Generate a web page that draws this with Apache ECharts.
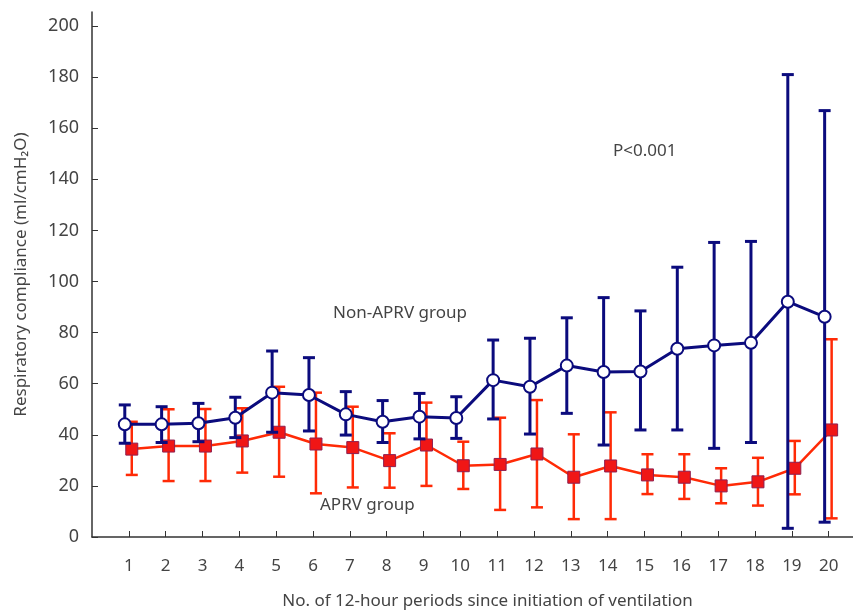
<!DOCTYPE html>
<html><head><meta charset="utf-8">
<script src="https://cdn.jsdelivr.net/npm/echarts@6/dist/echarts.min.js"></script>
<style>html,body{margin:0;padding:0;background:#fff}#c{width:853px;height:612px}</style>
</head><body><div id="c"></div>
<script>
// ---- data ----
const periods = [1,2,3,4,5,6,7,8,9,10,11,12,13,14,15,16,17,18,19,20];
const nonAprvMean = [44.1,44.1,44.5,46.7,56.5,55.6,48.0,45.1,47.1,46.6,61.4,58.8,67.1,64.6,64.8,73.7,75.0,76.0,92.1,86.2];
const nonAprvHigh = [51.7,51.0,52.3,54.7,72.8,70.2,56.9,53.4,56.2,54.9,77.1,77.8,85.8,93.7,88.5,105.6,115.3,115.7,181.0,166.9];
const nonAprvLow  = [36.7,37.0,37.3,38.9,41.0,41.5,39.9,37.0,38.4,38.6,46.2,40.3,48.4,36.0,41.9,41.9,34.7,37.0,3.4,5.8];
const aprvMean = [34.4,35.6,35.6,37.6,41.0,36.4,35.0,29.9,36.0,27.9,28.4,32.5,23.4,27.8,24.3,23.4,20.0,21.6,26.9,41.9];
const aprvHigh = [45.1,50.0,50.1,50.4,58.8,56.5,51.0,40.6,52.6,37.3,46.7,53.6,40.2,48.8,32.4,32.4,26.9,31.0,37.6,77.4];
const aprvLow  = [24.3,21.9,21.9,25.2,23.6,17.1,19.4,19.3,20.0,18.8,10.6,11.6,7.0,7.0,16.8,14.9,13.2,12.3,16.7,7.3];
const yTicks = [0,20,40,60,80,100,120,140,160,180,200];
const xTicks = periods;
const labels = { nonAprv: 'Non-APRV group', aprv: 'APRV group', p: 'P<0.001' };

// ---- style ----
const NAVY = '#0b0b7d';
const RED = '#ff2a06';
const BLUE_DX = -0.11;   // small horizontal stagger of the two groups
const RED_DX = 0.08;
const FONT = "'Noto Sans', sans-serif";
const TXT = '#444444';

function errSeries(name, low, high, color, dx, width, capHalf, z) {
  return {
    type: 'custom', name: name, z: z, silent: true,
    data: periods.map((p, i) => [p + dx, low[i], high[i]]),
    encode: { x: 0, y: [1, 2] },
    renderItem: function (params, api) {
      const lo = api.coord([api.value(0), api.value(1)]);
      const hi = api.coord([api.value(0), api.value(2)]);
      const style = { stroke: color, lineWidth: width, fill: null };
      return {
        type: 'group', children: [
          { type: 'line', shape: { x1: lo[0], y1: lo[1], x2: hi[0], y2: hi[1] }, style: style },
          { type: 'line', shape: { x1: lo[0] - capHalf, y1: lo[1], x2: lo[0] + capHalf, y2: lo[1] }, style: style },
          { type: 'line', shape: { x1: hi[0] - capHalf, y1: hi[1], x2: hi[0] + capHalf, y2: hi[1] }, style: style }
        ]
      };
    }
  };
}

const chart = echarts.init(document.getElementById('c'), null, { renderer: 'canvas' });
chart.setOption({
  animation: false,
  backgroundColor: '#fff',
  textStyle: { fontFamily: FONT },
  grid: { left: 92, right: 0, top: 12, bottom: 75, containLabel: false, outerBoundsMode: 'none' },
  xAxis: {
    type: 'value', min: 0, max: 20.66,
    name: 'No. of 12-hour periods since initiation of ventilation',
    nameLocation: 'middle', nameGap: 56,
    nameTextStyle: { fontSize: 17, color: TXT, fontFamily: FONT, padding: [0, 0, 0, 30] },
    axisLine: { show: true, lineStyle: { color: '#333', width: 1.5 } },
    axisTick: { show: true, inside: true, length: 6, customValues: xTicks, lineStyle: { color: '#333', width: 1 } },
    axisLabel: { customValues: xTicks, fontSize: 17, color: TXT, margin: 21, fontFamily: FONT },
    splitLine: { show: false }
  },
  yAxis: {
    type: 'value', min: 0, max: 205.5,
    name: 'Respiratory compliance (ml/cmH\u2082O)',
    nameLocation: 'middle', nameGap: 62, nameRotate: 90,
    nameTextStyle: { fontSize: 17, color: TXT, fontFamily: FONT },
    axisLine: { show: true, lineStyle: { color: '#333', width: 1.5 } },
    axisTick: { show: true, inside: true, length: 6, customValues: yTicks, lineStyle: { color: '#333', width: 1 } },
    axisLabel: { customValues: yTicks, fontSize: 18, color: TXT, margin: 13, fontFamily: FONT },
    splitLine: { show: false }
  },
  series: [
    errSeries('APRV err', aprvLow, aprvHigh, RED, RED_DX, 2.5, 6, 1),
    {
      type: 'line', name: 'APRV', z: 2,
      data: periods.map((p, i) => [p + RED_DX, aprvMean[i]]),
      lineStyle: { color: RED, width: 2.5 },
      symbol: 'rect', symbolSize: 12, showAllSymbol: true,
      itemStyle: { color: '#f01616', borderColor: '#8e1f4f', borderWidth: 1 }
    },
    errSeries('Non-APRV err', nonAprvLow, nonAprvHigh, NAVY, BLUE_DX, 3, 6, 3),
    {
      type: 'line', name: 'Non-APRV', z: 4,
      data: periods.map((p, i) => [p + BLUE_DX, nonAprvMean[i]]),
      lineStyle: { color: NAVY, width: 3 },
      symbol: 'circle', symbolSize: 12, showAllSymbol: true,
      itemStyle: { color: '#ffffff', borderColor: NAVY, borderWidth: 2 }
    }
  ],
  graphic: [
    { type: 'text', left: 333, top: 305, style: { text: labels.nonAprv, fontSize: 17, fill: TXT, fontFamily: FONT } },
    { type: 'text', left: 320, top: 497, style: { text: labels.aprv, fontSize: 17, fill: TXT, fontFamily: FONT } },
    { type: 'text', left: 613, top: 143, style: { text: labels.p, fontSize: 17, fill: TXT, fontFamily: FONT } }
  ]
});
</script>
</body></html>
